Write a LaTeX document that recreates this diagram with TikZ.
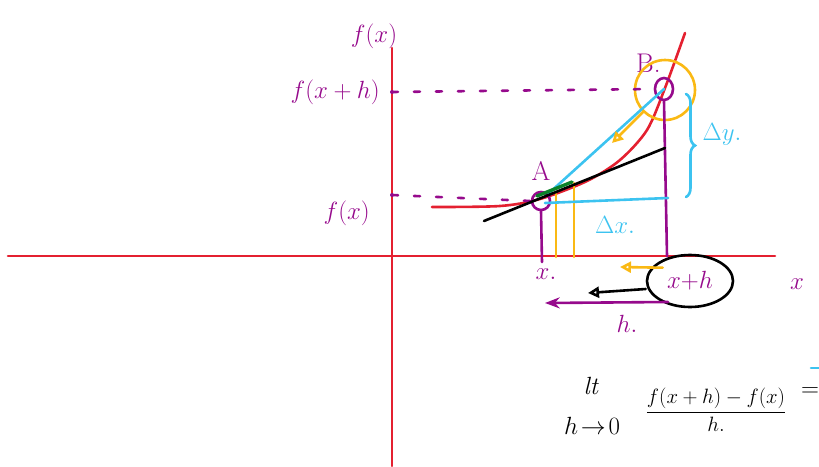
\documentclass[tikz,border=0pt]{standalone}
\usetikzlibrary{arrows.meta, positioning, shapes.geometric, calc,
                decorations.pathreplacing}
\usepackage{amsmath}

\definecolor{penred}{RGB}{228,32,48}
\definecolor{penpurple}{RGB}{150,10,140}
\definecolor{pencyan}{RGB}{60,195,240}
\definecolor{penorange}{RGB}{250,185,20}
\definecolor{pengreen}{RGB}{10,130,40}

\begin{document}
\begin{tikzpicture}[x=1pt, y=-1pt, >=Stealth, line cap=round,
  pen/.style={line width=2.6pt},
  lbl/.style={font=\fontsize{27}{30}\selectfont, penpurple, inner sep=0pt},
  sum/.style={font=\fontsize{24}{28}\selectfont, inner sep=0pt},
  guide/.style={pen, penpurple, dash pattern=on 6pt off 16pt},
  openhead/.style={-{Triangle[open, length=11pt, width=11pt]}}]
  \useasboundingbox (0,0) rectangle (819,466);
  \clip (0,0) rectangle (819,466);

  % Axes
  \draw[pen, penred] (8,256) -- (775,256);
  \draw[pen, penred] (392,48) -- (392,466);
  \node[lbl] (fy) at (374,36) {$f(x)$};
  \node[lbl] (fx) at (797,284) {$x$};

  % Curve
  \draw[pen, penred] plot[smooth] coordinates
    {(432,207) (500,206) (540,199) (587,181) (620,160) (647,130) (665,88) (685,33)};

  % Points A and B
  \node[draw=penpurple, pen, circle, minimum size=18pt, inner sep=0pt] (A) at (541,201) {};
  \node[draw=penpurple, pen, ellipse, minimum width=18pt, minimum height=22pt, inner sep=0pt] (B) at (664,89) {};
  \node[lbl, above=10pt of A] (lA) {A};
  \node[lbl, above left=8pt and -4pt of B] (lB) {B.};
  \node[draw=penorange, pen, circle, minimum size=60pt, inner sep=0pt] (zoomB) at (665,90) {};

  % Values on the vertical axis
  \coordinate (tB) at (392,92);
  \coordinate (tA) at (392,195);
  \fill[penpurple] (tB) circle (2pt);
  \fill[penpurple] (tA) circle (2pt);
  \draw[guide] (tB) -- (B.west);
  \draw[guide] (tA) -- (A.west);
  \node[lbl, left=12pt of tB] (fxh) {$f(x+h)$};
  \node[lbl, left=22pt of tA, yshift=-18pt] (fxa) {$f(x)$};

  % Drops to the x axis
  \coordinate (xA) at (542,262);
  \coordinate (xB) at (667,256);
  \draw[pen, penpurple] (A.south) -- (xA);
  \draw[pen, penpurple] (B.south) -- (xB);
  \draw[pen, penorange] (556,194) -- (556,257);
  \draw[pen, penorange] (574,183) -- (574,257);
  \node[lbl] (lx) at (546,274) {$x.$};

  % Secant and increments
  \draw[pen, pencyan] (A.north east) -- (B.center);
  \coordinate (dxEnd) at (668,198);
  \draw[pen, pencyan] (545,203) -- (dxEnd);
  \draw[pen, pencyan, decorate, decoration={brace, amplitude=9pt}] (686,94) -- (686,197);
  \node[lbl, pencyan] (dy) at (722,134) {$\Delta y.$};
  \node[lbl, pencyan] (dx) at (615,225) {$\Delta x.$};

  % Tangent
  \coordinate (t1) at (484,221);
  \coordinate (t2) at (665,148);
  \draw[pen, black] (t1) -- (t2);
  \draw[line width=3.4pt, pengreen] (537,196) -- (572,182);

  % x+h and h
  \node[draw, pen, ellipse, minimum width=86pt, minimum height=52pt, inner sep=0pt,
        font=\fontsize{28}{32}\selectfont, text=penpurple] (xh) at (690,281) {$x{+}h$};
  \coordinate (oTip) at (620,267);
  \draw[pen, penorange, openhead] (xh.north west) ++(4,6) -- (oTip);
  \coordinate (bTip) at (588,293);
  \draw[pen, black, openhead] (xh.west) ++(0,8) -- (bTip);
  \coordinate (hEnd) at (545,303);
  \draw[pen, penpurple, ->] (668,302) -- (hEnd);
  \node[lbl] (lh) at (627,324) {$h.$};
  \draw[pen, penorange, openhead] (zoomB.south west) -- (612,143);

  % Limit
  \node[sum] (lt) at (592,386) {$\mathit{lt}$};
  \node[sum, below=22pt of lt] (hto) {$h\!\to\! 0$};
  \node[sum, font=\fontsize{22}{26}\selectfont] (frac) at (716,410)
    {$\dfrac{f(x+h)-f(x)}{h.}$};
  \node[sum] (eq) at (810,392) {$=$};
  \draw[pen, pencyan] (811,368) -- (822,368);
\end{tikzpicture}
\end{document}
